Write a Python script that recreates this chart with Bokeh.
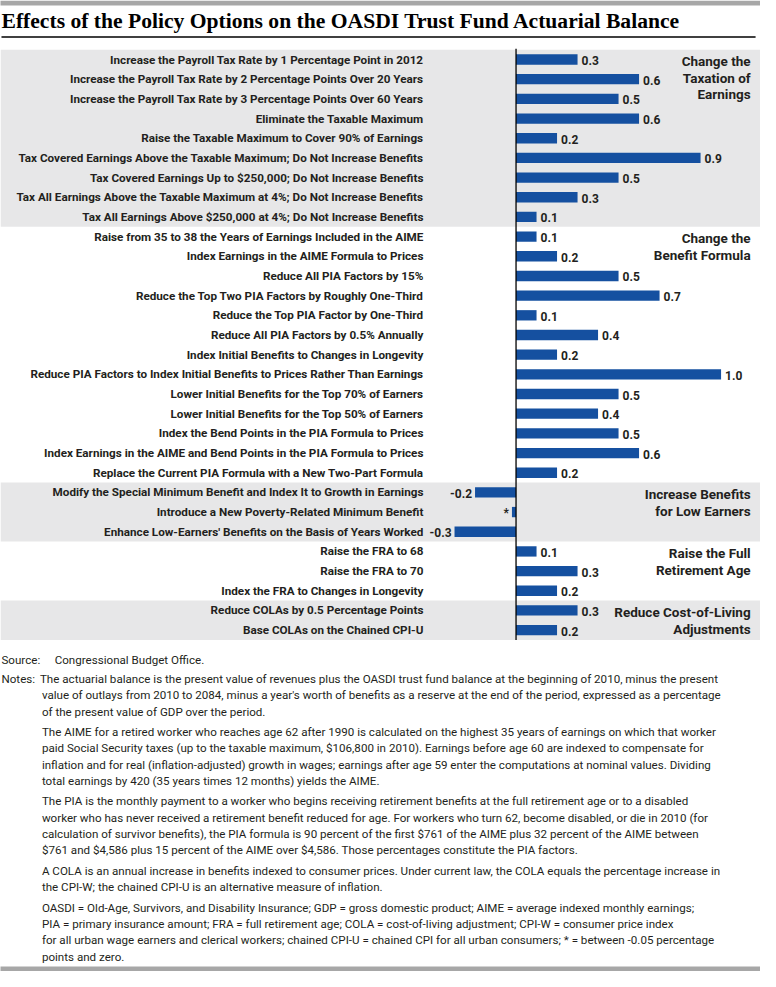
from bokeh.plotting import figure
from bokeh.models import Range1d, ColumnDataSource
from bokeh.core.properties import value
from bokeh.embed import file_html
from bokeh.resources import INLINE

# ---------------- data ----------------
tax_options = [
    "Increase the Payroll Tax Rate by 1 Percentage Point in 2012",
    "Increase the Payroll Tax Rate by 2 Percentage Points Over 20 Years",
    "Increase the Payroll Tax Rate by 3 Percentage Points Over 60 Years",
    "Eliminate the Taxable Maximum",
    "Raise the Taxable Maximum to Cover 90% of Earnings",
    "Tax Covered Earnings Above the Taxable Maximum; Do Not Increase Benefits",
    "Tax Covered Earnings Up to $250,000; Do Not Increase Benefits",
    "Tax All Earnings Above the Taxable Maximum at 4%; Do Not Increase Benefits",
    "Tax All Earnings Above $250,000 at 4%; Do Not Increase Benefits",
]
tax_values = [0.3, 0.6, 0.5, 0.6, 0.2, 0.9, 0.5, 0.3, 0.1]

benefit_options = [
    "Raise from 35 to 38 the Years of Earnings Included in the AIME",
    "Index Earnings in the AIME Formula to Prices",
    "Reduce All PIA Factors by 15%",
    "Reduce the Top Two PIA Factors by Roughly One-Third",
    "Reduce the Top PIA Factor by One-Third",
    "Reduce All PIA Factors by 0.5% Annually",
    "Index Initial Benefits to Changes in Longevity",
    "Reduce PIA Factors to Index Initial Benefits to Prices Rather Than Earnings",
    "Lower Initial Benefits for the Top 70% of Earners",
    "Lower Initial Benefits for the Top 50% of Earners",
    "Index the Bend Points in the PIA Formula to Prices",
    "Index Earnings in the AIME and Bend Points in the PIA Formula to Prices",
    "Replace the Current PIA Formula with a New Two-Part Formula",
]
benefit_values = [0.1, 0.2, 0.5, 0.7, 0.1, 0.4, 0.2, 1.0, 0.5, 0.4, 0.5, 0.6, 0.2]

low_options = [
    "Modify the Special Minimum Benefit and Index It to Growth in Earnings",
    "Introduce a New Poverty-Related Minimum Benefit",
    "Enhance Low-Earners' Benefits on the Basis of Years Worked",
]
low_values = [-0.2, -0.02, -0.3]

fra_options = [
    "Raise the FRA to 68",
    "Raise the FRA to 70",
    "Index the FRA to Changes in Longevity",
]
fra_values = [0.1, 0.3, 0.2]

cola_options = [
    "Reduce COLAs by 0.5 Percentage Points",
    "Base COLAs on the Chained CPI-U",
]
cola_values = [0.3, 0.2]

group_titles = [
    ["Change the", "Taxation of", "Earnings"],
    ["Change the", "Benefit Formula"],
    ["Increase Benefits", "for Low Earners"],
    ["Raise the Full", "Retirement Age"],
    ["Reduce Cost-of-Living", "Adjustments"],
]
group_shaded = [True, False, True, False, True]

title_text = "Effects of the Policy Options on the OASDI Trust Fund Actuarial Balance"
source_label = "Source:"
source_text = "Congressional Budget Office."
notes_label = "Notes:"
notes_paragraphs = [
    ["The actuarial balance is the present value of revenues plus the OASDI trust fund balance at the beginning of 2010, minus the present",
     "value of outlays from 2010 to 2084, minus a year's worth of benefits as a reserve at the end of the period, expressed as a percentage",
     "of the present value of GDP over the period."],
    ["The AIME for a retired worker who reaches age 62 after 1990 is calculated on the highest 35 years of earnings on which that worker",
     "paid Social Security taxes (up to the taxable maximum, $106,800 in 2010). Earnings before age 60 are indexed to compensate for",
     "inflation and for real (inflation-adjusted) growth in wages; earnings after age 59 enter the computations at nominal values. Dividing",
     "total earnings by 420 (35 years times 12 months) yields the AIME."],
    ["The PIA is the monthly payment to a worker who begins receiving retirement benefits at the full retirement age or to a disabled",
     "worker who has never received a retirement benefit reduced for age. For workers who turn 62, become disabled, or die in 2010 (for",
     "calculation of survivor benefits), the PIA formula is 90 percent of the first $761 of the AIME plus 32 percent of the AIME between",
     "$761 and $4,586 plus 15 percent of the AIME over $4,586. Those percentages constitute the PIA factors."],
    ["A COLA is an annual increase in benefits indexed to consumer prices. Under current law, the COLA equals the percentage increase in",
     "the CPI-W; the chained CPI-U is an alternative measure of inflation."],
    ["OASDI = Old-Age, Survivors, and Disability Insurance; GDP = gross domestic product; AIME = average indexed monthly earnings;",
     "PIA = primary insurance amount; FRA = full retirement age; COLA = cost-of-living adjustment; CPI-W = consumer price index",
     "for all urban wage earners and clerical workers; chained CPI-U = chained CPI for all urban consumers; * = between -0.05 percentage",
     "points and zero."],
]

# ---------------- layout (reference-pixel units) ----------------
W, H = 760, 971
ROW0, ROW_H = 60.0, 20.0
ZERO_PX, PX_PER_UNIT = 525.0, 208.0
LEFT_PX, RIGHT_PX = 2.0, 773.0

def RX(px):
    return (px - ZERO_PX) / PX_PER_UNIT

SANS = "Roboto"
SERIF = "Liberation Serif"
BAR = "#1550a0"
TXT = "#231f20"
BAND = "#e7e7e8"
RULE = "#a7a7a7"

p = figure(width=W, height=H, output_backend="svg", toolbar_location=None,
           x_range=Range1d(RX(LEFT_PX), RX(RIGHT_PX)), y_range=Range1d(987, 0),
           x_axis_location=None, y_axis_location=None,
           min_border=0, outline_line_color=None, background_fill_color="white")
p.grid.visible = False

groups = [(tax_options, tax_values), (benefit_options, benefit_values),
          (low_options, low_values), (fra_options, fra_values),
          (cola_options, cola_values)]

labels, vals, rows = [], [], []
band_top, band_bot, title_x, title_y, title_s = [], [], [], [], []
r = 0
for gi, (opts, vs) in enumerate(groups):
    first = r
    for o, v in zip(opts, vs):
        labels.append(o); vals.append(v); rows.append(ROW0 + ROW_H * r)
        r += 1
    if group_shaded[gi]:
        band_top.append(ROW0 + ROW_H * first - ROW_H / 2)
        band_bot.append(ROW0 + ROW_H * (r - 1) + ROW_H / 2)
    for li, t in enumerate(group_titles[gi]):
        title_s.append(t)
        title_y.append(ROW0 + ROW_H * first + 1.8 + li * 16.7)
        title_x.append(RX(763))

# shaded bands
p.quad(left=RX(LEFT_PX), right=RX(RIGHT_PX), top=band_top, bottom=band_bot,
       fill_color=BAND, line_color=None)

# top / bottom grey rules and title underline
p.quad(left=RX(0), right=RX(RIGHT_PX), top=0, bottom=5, fill_color=RULE, line_color=None)
p.quad(left=RX(0), right=RX(RIGHT_PX), top=982, bottom=987, fill_color=RULE, line_color=None)
p.segment(x0=RX(3), x1=RX(768), y0=37, y1=37, line_color="black", line_width=1.5)

# bars
src = ColumnDataSource(dict(
    y=rows, v=vals, label=labels,
    vt=["*" if abs(v) < 0.05 else f"{v:.1f}" for v in vals],
))
p.hbar(y="y", left=0, right="v", height=10.5, source=src, fill_color=BAR, line_color=None)

# zero line
p.segment(x0=0, x1=0, y0=rows[0] - 11, y1=rows[-1] + 10, line_color="black", line_width=1.3)

# category labels
p.text(x=RX(431), y="y", text="label", source=src, text_font=value(SANS),
       text_font_size=value("11.7px"), text_font_style="bold", text_align="right",
       text_baseline="middle", text_color=TXT)

# value labels
pos = ColumnDataSource(dict(y=[y for y, v in zip(rows, vals) if v >= 0],
                            x=[v for v in vals if v >= 0],
                            t=[t for t, v in zip(src.data["vt"], vals) if v >= 0]))
neg = ColumnDataSource(dict(y=[y for y, v in zip(rows, vals) if v < 0],
                            x=[v for v in vals if v < 0],
                            t=[t for t, v in zip(src.data["vt"], vals) if v < 0]))
p.text(x="x", y="y", text="t", source=pos, x_offset=4, y_offset=1, text_font=value(SANS),
       text_font_size=value("12px"), text_font_style="bold", text_align="left",
       text_baseline="middle", text_color=TXT)
p.text(x="x", y="y", text="t", source=neg, x_offset=-3, y_offset=1, text_font=value(SANS),
       text_font_size=value("12px"), text_font_style="bold", text_align="right",
       text_baseline="middle", text_color=TXT)

# group titles
p.text(x=title_x, y=title_y, text=title_s, text_font=value(SANS),
       text_font_size=value("13.5px"), text_font_style="bold", text_align="right",
       text_baseline="middle", text_color=TXT)

# title
p.text(x=[RX(3)], y=[21], text=[title_text], text_font=value(SERIF),
       text_font_size=value("21.6px"), text_font_style="bold", text_align="left",
       text_baseline="middle", text_color="black")

# source & notes
nx, ny, nt = [RX(3), RX(57), RX(3)], [670, 670, 689.5], [source_label, source_text, notes_label]
y = 689.5
LINE, GAP = 16.65, 4.0
for pi, para in enumerate(notes_paragraphs):
    for li, line in enumerate(para):
        nx.append(RX(42) if (pi == 0 and li == 0) else RX(44))
        ny.append(y); nt.append(line)
        y += LINE
    y += GAP
p.text(x=nx, y=ny, text=nt, text_font=value(SANS), text_font_size=value("11.6px"),
       text_align="left", text_baseline="middle", text_color=TXT)

open("out.html", "w").write(file_html(p, INLINE))
